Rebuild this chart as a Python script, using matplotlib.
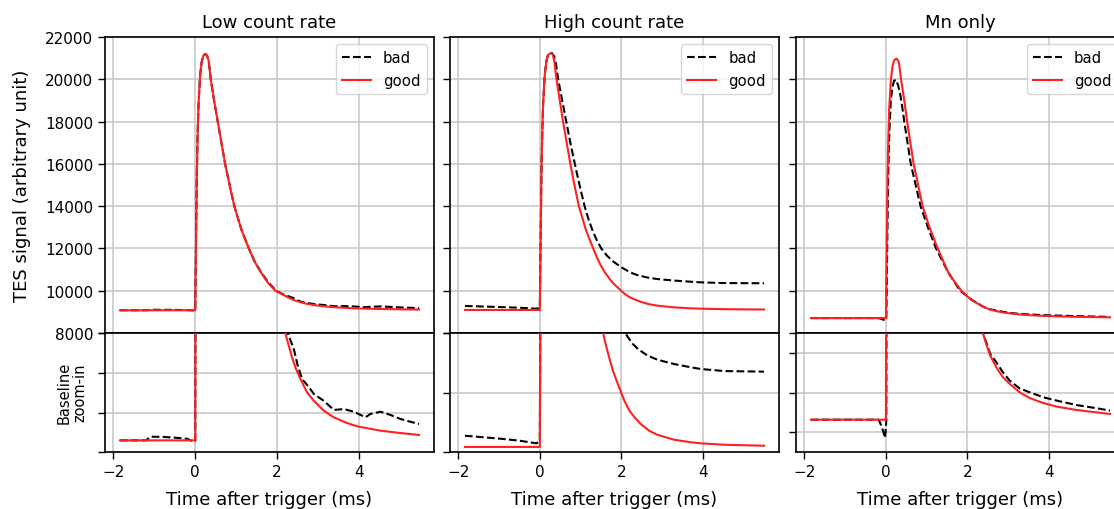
import matplotlib
matplotlib.use("Agg")
import matplotlib.pyplot as plt

# ---------------- data ----------------
titles = ["Low count rate", "High count rate", "Mn only"]
series_labels = ["bad", "good"]
x_ticks = [-2, 0, 2, 4]
main_yticks = [8000, 10000, 12000, 14000, 16000, 18000, 20000, 22000]

# Low count rate
t1_good = [-1.84, -0.02, 0.0, 0.02, 0.04, 0.06, 0.08, 0.12, 0.16, 0.20, 0.245, 0.29, 0.33,
           0.38, 0.46, 0.55, 0.64, 0.73, 0.84, 0.955, 1.13, 1.31, 1.45, 1.6, 1.78, 1.96,
           2.203, 2.285, 2.367, 2.448, 2.57, 2.734, 2.897, 3.14, 3.386, 3.71, 3.96, 4.53, 5.02, 5.47]
v1_good = [9075, 9075, 9075, 12500, 15650, 17500, 18800, 20220, 20850, 21120, 21200, 21120, 20850,
           20000, 19000, 18000, 17000, 16000, 15000, 14000, 12880, 12000, 11375, 10880, 10365, 10000,
           9750, 9670, 9597, 9534, 9461, 9377, 9324, 9262, 9220, 9184, 9163, 9136, 9121, 9109]
t1_bad = [-1.84, -1.2, -1.1, -0.8, -0.5, -0.2, -0.05, 0.0, 0.02, 0.04, 0.06, 0.08, 0.12, 0.16,
          0.20, 0.245, 0.29, 0.33, 0.38, 0.46, 0.55, 0.64, 0.73, 0.84, 0.955, 1.13, 1.31, 1.45,
          1.6, 1.78, 1.96, 2.1, 2.26, 2.41, 2.505, 2.61, 2.78, 2.90, 3.14, 3.39, 3.63, 3.88,
          4.16, 4.28, 4.53, 4.77, 5.02, 5.26, 5.47]
v1_bad = [9075, 9075, 9098, 9097, 9092, 9085, 9068, 9070, 12500, 15650, 17500, 18800, 20220, 20850,
          21120, 21200, 21120, 20850, 20000, 19000, 18000, 17000, 16000, 15000, 14000, 12880, 12000, 11390,
          10900, 10410, 10030, 9870, 9750, 9649, 9544, 9461, 9409, 9366, 9324, 9266, 9272, 9255,
          9220, 9241, 9255, 9235, 9209, 9192, 9178]

# High count rate
t2_good = [-1.84, -0.02, 0.0, 0.02, 0.04, 0.06, 0.08, 0.12, 0.16, 0.20, 0.27, 0.32, 0.36,
           0.41, 0.49, 0.57, 0.66, 0.75, 0.85, 0.96, 1.13, 1.31, 1.40, 1.49, 1.6, 1.72,
           1.80, 1.92, 2.0, 2.08, 2.2, 2.33, 2.49, 2.69, 2.89, 3.30, 3.71, 3.96, 4.53, 5.51]
v2_good = [9090, 9090, 9090, 12500, 15650, 17500, 18800, 20200, 20850, 21150, 21250, 21150, 20800,
           20000, 19000, 18000, 17000, 16000, 15000, 14000, 12890, 12000, 11590, 11220, 10860, 10550,
           10360, 10140, 10000, 9860, 9700, 9585, 9468, 9360, 9293, 9211, 9168, 9150, 9127, 9110]
t2_bad = [-1.84, -1.0, -0.5, -0.08, -0.02, 0.0, 0.02, 0.04, 0.06, 0.08, 0.12, 0.16, 0.20, 0.29,
          0.35, 0.40, 0.45, 0.55, 0.65, 0.75, 0.86, 0.94, 1.0, 1.10, 1.2, 1.3, 1.4, 1.51, 1.65,
          1.8, 2.0, 2.10, 2.16, 2.28, 2.41, 2.65, 2.89, 3.30, 3.71, 3.96, 4.53, 5.51]
v2_bad = [9278, 9230, 9195, 9150, 9180, 9200, 12500, 15650, 17500, 18800, 20200, 20850, 21150, 21250,
          21100, 20700, 20000, 19000, 18000, 17000, 16000, 15300, 14800, 14000, 13357, 12826, 12388, 12000, 11657,
          11388, 11110, 11000, 10935, 10820, 10732, 10620, 10552, 10480, 10425, 10396, 10362, 10352]

# Mn only
t3_good = [-1.84, -0.02, 0.0, 0.02, 0.04, 0.06, 0.08, 0.12, 0.16, 0.20, 0.26, 0.31, 0.34,
           0.37, 0.45, 0.52, 0.60, 0.68, 0.79, 0.9, 1.07, 1.27, 1.55, 1.85, 2.1, 2.38,
           2.46, 2.56, 2.71, 2.87, 3.04, 3.28, 3.53, 3.86, 4.19, 4.68, 5.17, 5.5]
v3_good = [8705, 8705, 8705, 12300, 15400, 17300, 18600, 19950, 20600, 20900, 20980, 20850, 20500,
           20000, 19000, 18000, 17000, 16000, 15000, 14000, 13000, 12000, 10775, 10000, 9555, 9250,
           9181, 9108, 9034, 8972, 8930, 8877, 8841, 8810, 8787, 8766, 8751, 8741]
t3_bad = [-1.84, -0.18, -0.1, -0.02, 0.01, 0.03, 0.05, 0.07, 0.09, 0.12, 0.16, 0.20, 0.25, 0.30,
          0.35, 0.40, 0.45, 0.53, 0.61, 0.73, 0.85, 1.03, 1.23, 1.52, 1.82, 2.1, 2.38, 2.46,
          2.56, 2.71, 2.87, 3.04, 3.28, 3.53, 3.86, 4.19, 4.68, 5.17, 5.5]
v3_bad = [8705, 8705, 8660, 8590, 8700, 11800, 14800, 16600, 17800, 19000, 19650, 19930, 19980, 19700,
          19300, 18700, 18000, 17000, 16000, 15000, 14000, 13000, 12000, 10900, 10000, 9580, 9250, 9192,
          9118, 9066, 9003, 8950, 8902, 8877, 8846, 8825, 8797, 8777, 8762]

# baseline zoom-in windows
zoom_ylims = [(9000, 9750), (9000, 11000), (8500, 9250)]
zoom_yticks = [[9000, 9250, 9500, 9750], [9000, 10000, 11000], [8625, 8875, 9125]]

panels = [
    (t1_bad, v1_bad, t1_good, v1_good),
    (t2_bad, v2_bad, t2_good, v2_good),
    (t3_bad, v3_bad, t3_good, v3_good),
]

# ---------------- figure ----------------
W, H = 1114, 510
fig = plt.figure(figsize=(W / 100, H / 100), dpi=100)

lefts = [105, 450, 796]
width = 329
top_y0, top_y1, bot_y1 = 38, 334, 453.3

RED = "#ff2020"
GRID = "#c9c9c9"

for i in range(3):
    tb, vb, tg, vg = panels[i]
    ax_top = fig.add_axes([lefts[i] / W, 1 - top_y1 / H, width / W, (top_y1 - top_y0) / H])
    ax_bot = fig.add_axes([lefts[i] / W, 1 - bot_y1 / H, width / W, (bot_y1 - top_y1) / H],
                          sharex=ax_top)
    for ax in (ax_top, ax_bot):
        ax.plot(tb, vb, color="black", ls="--", lw=1.5, label=series_labels[0], zorder=3)
        ax.plot(tg, vg, color=RED, lw=1.5, label=series_labels[1], zorder=4)
        ax.grid(True, color=GRID, lw=1.2)
        ax.set_axisbelow(True)
        for sp in ax.spines.values():
            sp.set_linewidth(1.2)
        ax.tick_params(labelsize=11, width=1.0, length=5)

    ax_top.set_ylim(8000, 22000)
    ax_top.set_yticks(main_yticks)
    ax_top.set_xticks(x_ticks)
    ax_top.tick_params(axis="x", bottom=False, labelbottom=False)
    ax_top.set_title(titles[i], fontsize=13, pad=7)
    if i > 0:
        ax_top.tick_params(axis="y", labelleft=False)
    ax_top.legend(loc="upper right", fontsize=10.7, handlelength=2.0)

    ax_bot.set_ylim(*zoom_ylims[i])
    ax_bot.set_yticks(zoom_yticks[i])
    ax_bot.set_yticklabels([])
    ax_bot.set_xticks(x_ticks)
    ax_bot.set_xticklabels([str(v).replace("-", "\u2212") for v in x_ticks])
    ax_bot.set_xlabel("Time after trigger (ms)", fontsize=13, labelpad=8)

fig.text(22 / W, 1 - 186 / H, "TES signal (arbitrary unit)", rotation=90,
         ha="center", va="center", fontsize=13)
fig.text(72 / W, 1 - 393 / H, "Baseline\nzoom-in", rotation=90,
         ha="center", va="center", fontsize=10.5, linespacing=1.05)

fig.savefig("out.png", dpi=100)
